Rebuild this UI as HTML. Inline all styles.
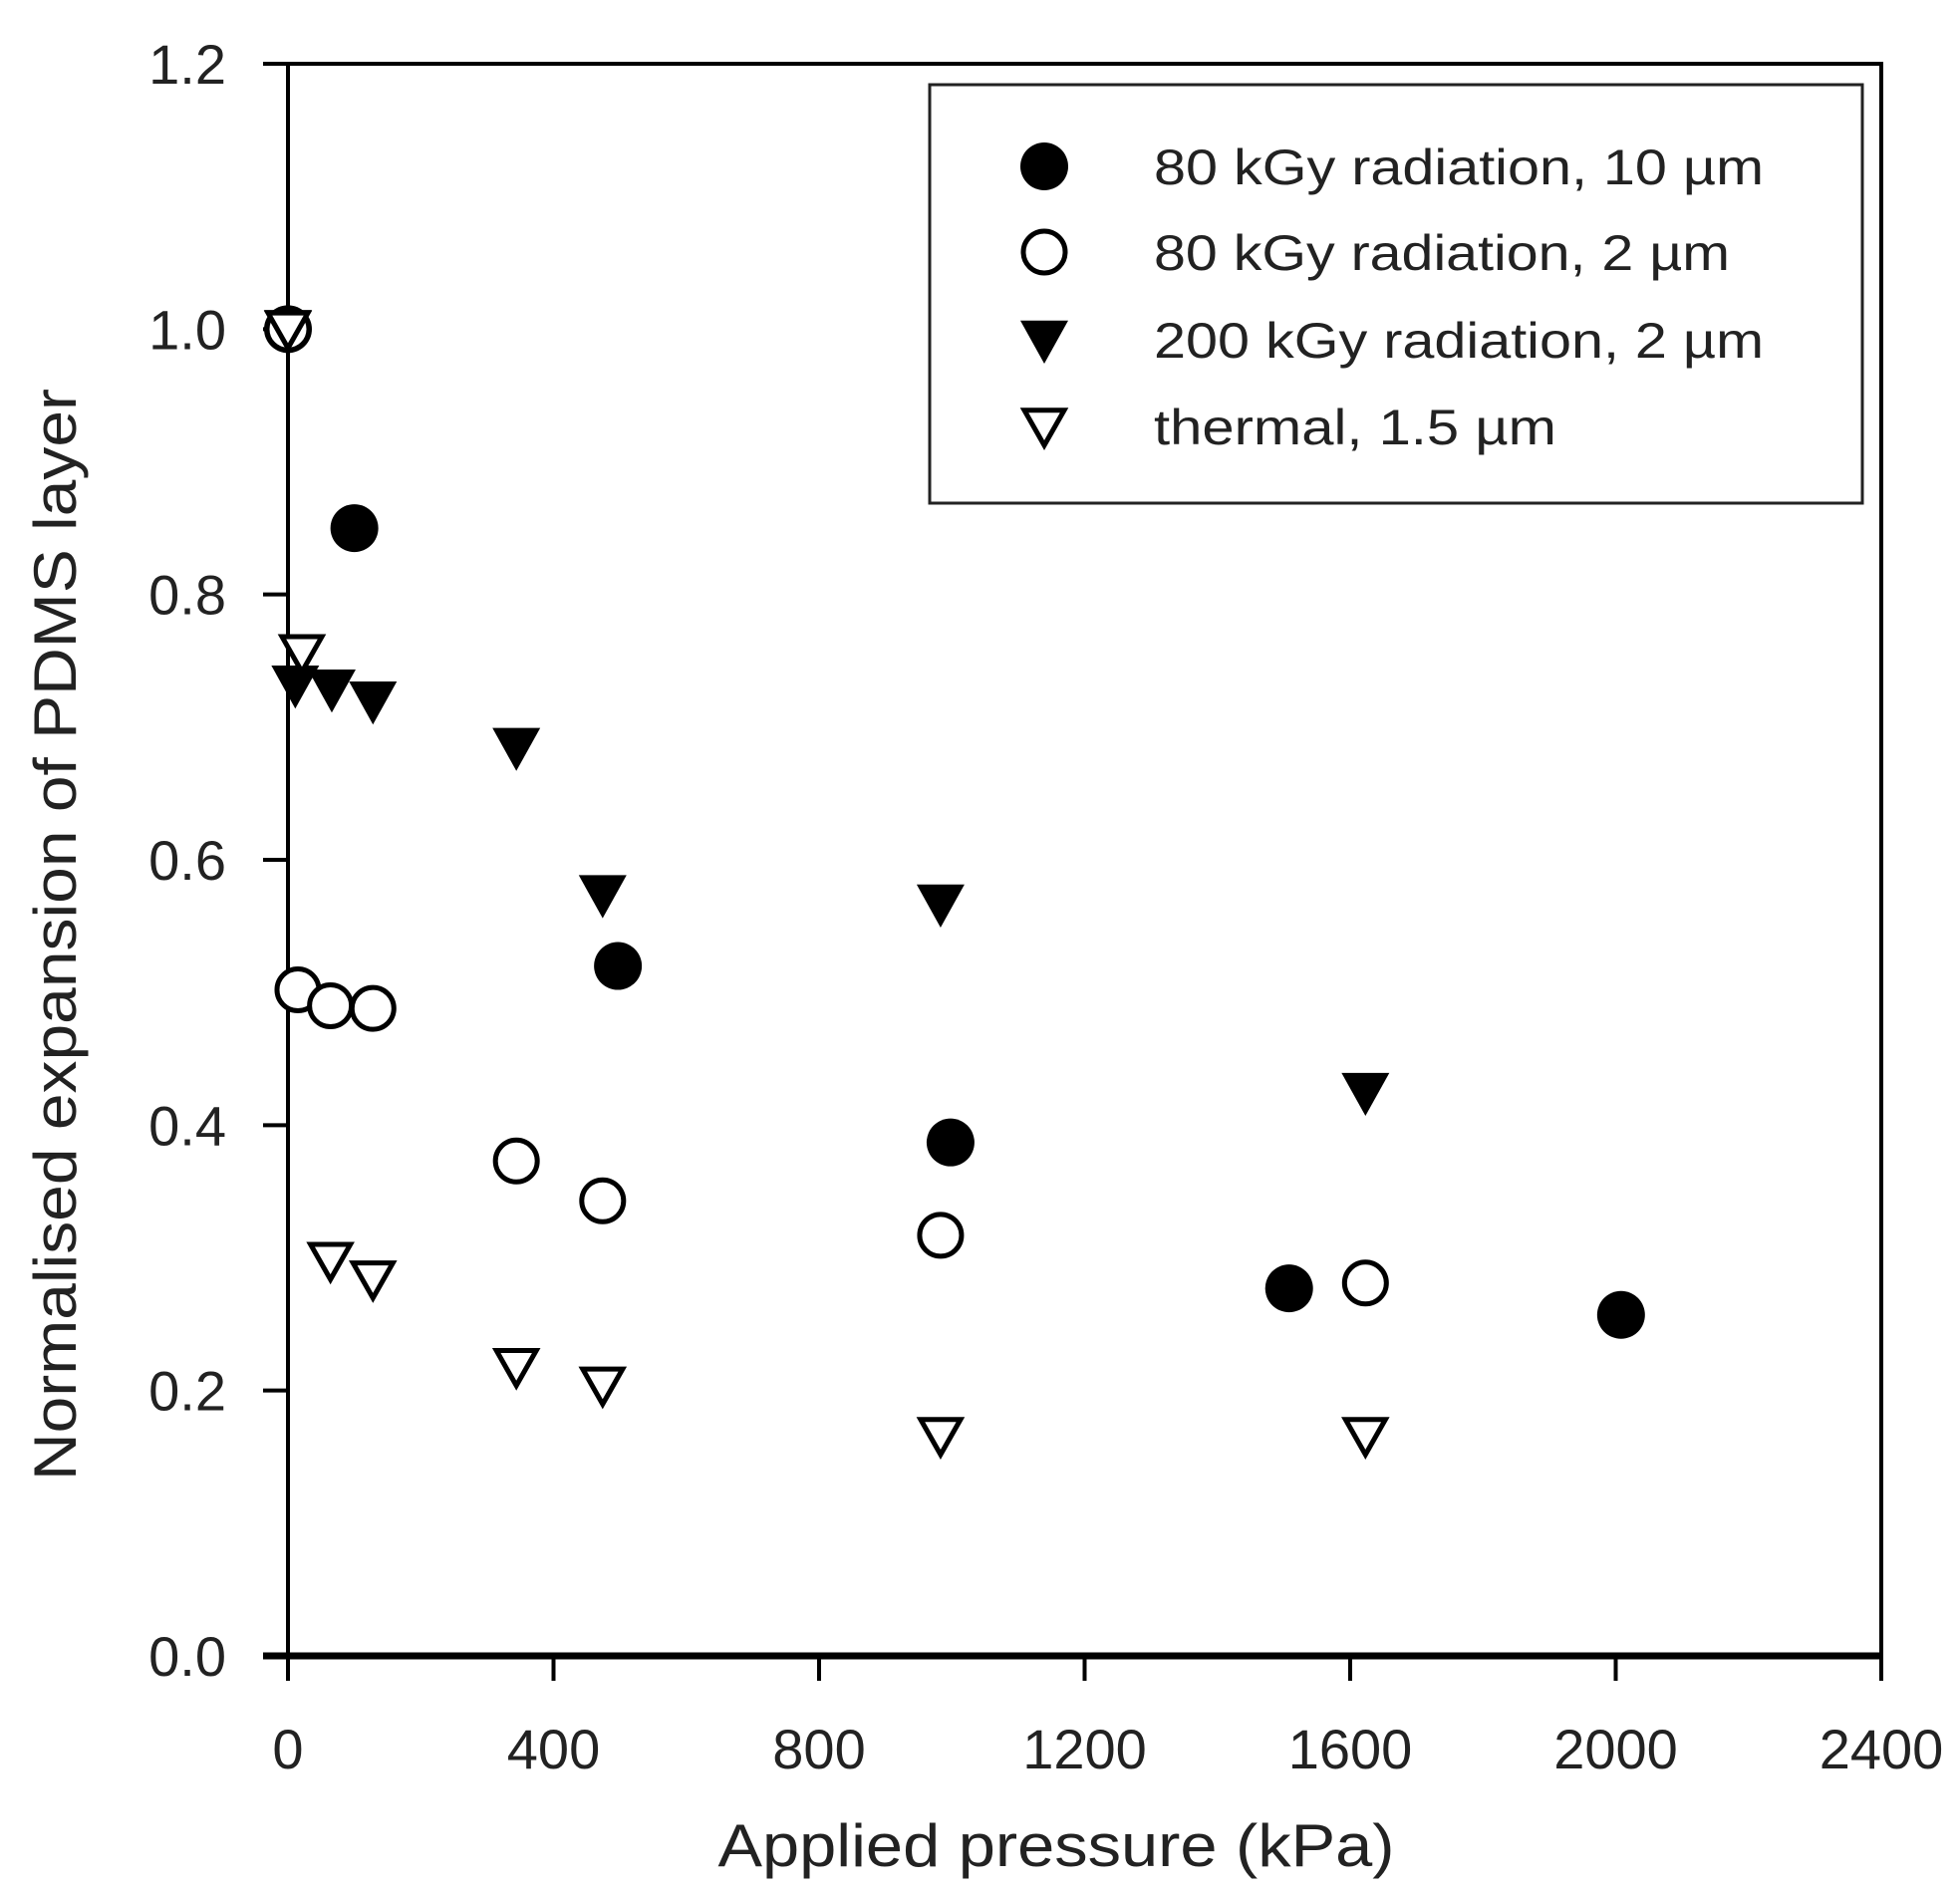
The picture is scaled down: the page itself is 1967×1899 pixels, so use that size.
<!DOCTYPE html>
<html><head><meta charset="utf-8"><style>
html,body{margin:0;padding:0;background:#fff;}
svg{display:block;font-family:"Liberation Sans",sans-serif;}
</style></head><body>
<svg id="chart" width="1967" height="1899" viewBox="0 0 1967 1899">
<g id="axes"></g><g id="marks"></g><g id="legend"></g>
</svg>
<script>
const xTicks = [0, 400, 800, 1200, 1600, 2000, 2400];
const yTicks = [0.0, 0.2, 0.4, 0.6, 0.8, 1.0, 1.2];
const s1x = [0, 100, 497, 998, 1508, 2008];
const s1y = [1.0, 0.85, 0.52, 0.387, 0.277, 0.257];
const s2x = [0, 15, 64, 128, 344, 474, 983, 1623];
const s2y = [1.0, 0.502, 0.49, 0.488, 0.373, 0.343, 0.317, 0.281];
const s3x = [0, 11, 66, 128, 344, 474, 983, 1623];
const s3y = [1.0, 0.732, 0.729, 0.72, 0.685, 0.574, 0.567, 0.425];
const s4x = [0, 21, 64, 128, 344, 474, 983, 1623];
const s4y = [1.0, 0.756, 0.298, 0.284, 0.218, 0.204, 0.166, 0.166];
const legendLabels = ["80 kGy radiation, 10 µm", "80 kGy radiation, 2 µm", "200 kGy radiation, 2 µm", "thermal, 1.5 µm"];

const NS = "http://www.w3.org/2000/svg";
const L = 289, R = 1888, T = 64, B = 1662;
const xs = v => L + (v / 2400) * (R - L);
const ys = v => B - (v / 1.2) * (B - T);
function mk(tag, attrs, parent) {
  const e = document.createElementNS(NS, tag);
  for (const k in attrs) e.setAttribute(k, attrs[k]);
  parent.appendChild(e); return e;
}
const axes = document.getElementById('axes');
const marks = document.getElementById('marks');
const legend = document.getElementById('legend');

const frame = mk('rect', {x: L, y: T, width: R - L, height: B - T, fill: 'none', stroke: '#000', 'stroke-width': 4}, axes);


const xaxis = mk('line', {x1: L - 25, x2: R, y1: B, y2: B, stroke: '#000', 'stroke-width': 7}, axes);



xTicks.forEach(v => {
  const t = mk('line', {x1: xs(v), x2: xs(v), y1: B, y2: B + 25, stroke: '#000', 'stroke-width': 4}, axes);
  
  
  const lb = mk('text', {x: xs(v), y: 1775, 'font-size': 56, 'text-anchor': 'middle', fill: '#222'}, axes);
  lb.textContent = String(v);
  
  
});
yTicks.forEach(v => {
  const t = mk('line', {x1: L - 25, x2: L, y1: ys(v), y2: ys(v), stroke: '#000', 'stroke-width': 4}, axes);
  
  
  const lb = mk('text', {x: 227, y: ys(v) + 20, 'font-size': 56, 'text-anchor': 'end', fill: '#222'}, axes);
  lb.textContent = v.toFixed(1);
  
  
});
const xt = mk('text', {x: 1060, y: 1873, 'font-size': 60, 'text-anchor': 'middle', fill: '#222', textLength: 679, lengthAdjust: 'spacingAndGlyphs'}, axes);
xt.textContent = 'Applied pressure (kPa)';


const yt = mk('text', {x: 0, y: 0, 'font-size': 60, 'text-anchor': 'middle', fill: '#222', transform: 'translate(76,938) rotate(-90)', textLength: 1096, lengthAdjust: 'spacingAndGlyphs'}, axes);
yt.textContent = 'Normalised expansion of PDMS layer';



function marker(type, cx, cy, parent) {
  const r = 24;
  if (type === 0) return mk('circle', {cx, cy, r, fill: '#000'}, parent);
  if (type === 1) return mk('circle', {cx, cy, r: r - 3, fill: '#fff', stroke: '#000', 'stroke-width': 5}, parent);
  const pts = `${cx - r},${cy - r * 0.8} ${cx + r},${cy - r * 0.8} ${cx},${cy + r}`;
  if (type === 2) return mk('polygon', {points: pts, fill: '#000'}, parent);
  const p2 = `${cx - r + 4},${cy - r * 0.8 + 3} ${cx + r - 4},${cy - r * 0.8 + 3} ${cx},${cy + r - 5}`;
  return mk('polygon', {points: p2, fill: '#fff', stroke: '#000', 'stroke-width': 5, 'stroke-linejoin': 'miter'}, parent);
}
const series = [[s1x, s1y], [s2x, s2y], [s3x, s3y], [s4x, s4y]];
const snames = ['80kgy-10um', '80kgy-2um', '200kgy-2um', 'thermal-1-5um'];
series.forEach((s, i) => {
  const g = mk('g', {}, marks);
  
  
  s[0].forEach((xv, j) => {
    const m = marker(i, xs(xv), ys(s[1][j]), g);
    
    
  });
});

const box = mk('rect', {x: 933, y: 85, width: 936, height: 420, fill: '#fff', stroke: '#222', 'stroke-width': 3}, legend);


const rowsY = [167, 253, 341, 428];
const widths = [612, 578, 612, 404];
legendLabels.forEach((t, i) => {
  const g = mk('g', {}, legend);
  
  
  marker(i, 1048, rowsY[i], g);
  const tx = mk('text', {x: 1158, y: rowsY[i] + 18, 'font-size': 50, fill: '#222', textLength: widths[i], lengthAdjust: 'spacingAndGlyphs'}, g);
  tx.textContent = t;
});
</script>
</body></html>
